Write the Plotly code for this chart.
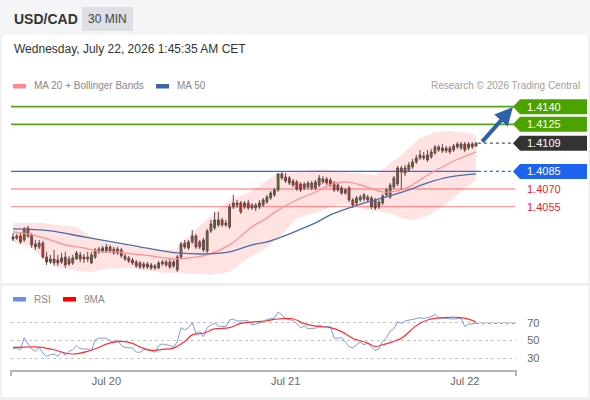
import plotly.graph_objects as go

# USD/CAD 30 min candles, oldest first (bar 124 = Jul 22 01:30)
opens = [1.40292, 1.40284, 1.40301, 1.40267, 1.40369, 1.40310, 1.40233, 1.40207, 1.40241, 1.40122,
         1.40080, 1.40105, 1.40097, 1.40080, 1.40122, 1.40105, 1.40071, 1.40105, 1.40140, 1.40122,
         1.40105, 1.40071, 1.40122, 1.40165, 1.40173, 1.40173, 1.40207, 1.40190, 1.40156, 1.40182,
         1.40131, 1.40114, 1.40097, 1.40080, 1.40071, 1.40037, 1.40063, 1.40054, 1.40029, 1.40029,
         1.40063, 1.40080, 1.40080, 1.40046, 1.40012, 1.40122, 1.40241, 1.40199, 1.40250, 1.40301,
         1.40207, 1.40267, 1.40173, 1.40343, 1.40369, 1.40394, 1.40437, 1.40411, 1.40377, 1.40547,
         1.40581, 1.40581, 1.40547, 1.40581, 1.40564, 1.40539, 1.40547, 1.40564, 1.40590, 1.40624,
         1.40650, 1.40692, 1.40828, 1.40802, 1.40794, 1.40768, 1.40760, 1.40743, 1.40709, 1.40717,
         1.40709, 1.40709, 1.40734, 1.40785, 1.40785, 1.40777, 1.40751, 1.40734, 1.40709, 1.40692,
         1.40709, 1.40607, 1.40581, 1.40607, 1.40615, 1.40632, 1.40624, 1.40607, 1.40547, 1.40581,
         1.40650, 1.40632, 1.40717, 1.40743, 1.40879, 1.40836, 1.40862, 1.40888, 1.40930, 1.40990,
         1.40981, 1.40990, 1.40973, 1.41007, 1.41058, 1.41024, 1.41049, 1.41049, 1.41032, 1.41083,
         1.41049, 1.41083, 1.41049, 1.41083, 1.41066]
highs = [1.40326, 1.40318, 1.40326, 1.40377, 1.40386, 1.40326, 1.40267, 1.40267, 1.40258, 1.40165,
         1.40140, 1.40182, 1.40140, 1.40156, 1.40165, 1.40131, 1.40140, 1.40173, 1.40165, 1.40148,
         1.40165, 1.40165, 1.40199, 1.40207, 1.40216, 1.40233, 1.40224, 1.40207, 1.40207, 1.40199,
         1.40148, 1.40131, 1.40114, 1.40097, 1.40088, 1.40080, 1.40080, 1.40071, 1.40063, 1.40088,
         1.40097, 1.40097, 1.40105, 1.40097, 1.40140, 1.40250, 1.40267, 1.40267, 1.40352, 1.40318,
         1.40267, 1.40284, 1.40360, 1.40437, 1.40505, 1.40505, 1.40454, 1.40437, 1.40573, 1.40650,
         1.40607, 1.40598, 1.40598, 1.40607, 1.40581, 1.40581, 1.40607, 1.40624, 1.40650, 1.40683,
         1.40709, 1.40836, 1.40845, 1.40836, 1.40811, 1.40785, 1.40777, 1.40760, 1.40760, 1.40768,
         1.40768, 1.40777, 1.40819, 1.40811, 1.40802, 1.40794, 1.40768, 1.40751, 1.40726, 1.40709,
         1.40726, 1.40624, 1.40641, 1.40650, 1.40666, 1.40650, 1.40641, 1.40624, 1.40607, 1.40658,
         1.40709, 1.40751, 1.40811, 1.40896, 1.40896, 1.40905, 1.40930, 1.40956, 1.40990, 1.41032,
         1.41015, 1.41032, 1.41041, 1.41075, 1.41075, 1.41083, 1.41066, 1.41066, 1.41083, 1.41100,
         1.41100, 1.41100, 1.41100, 1.41100, 1.41100]
lows = [1.40258, 1.40267, 1.40233, 1.40250, 1.40284, 1.40199, 1.40182, 1.40190, 1.40105, 1.40054,
        1.40063, 1.40046, 1.40046, 1.40063, 1.40029, 1.40046, 1.40054, 1.40097, 1.40080, 1.40071,
        1.40080, 1.40063, 1.40105, 1.40148, 1.40156, 1.40156, 1.40156, 1.40140, 1.40140, 1.40114,
        1.40088, 1.40071, 1.40054, 1.40029, 1.40020, 1.40020, 1.40020, 1.40012, 1.40012, 1.40020,
        1.40046, 1.40037, 1.40020, 1.40029, 1.39995, 1.40105, 1.40190, 1.40182, 1.40233, 1.40190,
        1.40190, 1.40165, 1.40156, 1.40326, 1.40352, 1.40377, 1.40377, 1.40377, 1.40360, 1.40530,
        1.40539, 1.40488, 1.40530, 1.40522, 1.40522, 1.40513, 1.40530, 1.40547, 1.40573, 1.40607,
        1.40632, 1.40675, 1.40777, 1.40751, 1.40734, 1.40717, 1.40683, 1.40675, 1.40692, 1.40700,
        1.40692, 1.40692, 1.40717, 1.40743, 1.40734, 1.40717, 1.40675, 1.40675, 1.40650, 1.40650,
        1.40590, 1.40539, 1.40564, 1.40590, 1.40598, 1.40590, 1.40530, 1.40522, 1.40530, 1.40564,
        1.40632, 1.40615, 1.40700, 1.40726, 1.40692, 1.40811, 1.40845, 1.40871, 1.40913, 1.40947,
        1.40947, 1.40930, 1.40956, 1.40990, 1.41015, 1.41007, 1.41007, 1.40998, 1.41015, 1.41041,
        1.41032, 1.41015, 1.41032, 1.41041, 1.41058]
closes = [1.40275, 1.40301, 1.40250, 1.40360, 1.40301, 1.40224, 1.40207, 1.40241, 1.40122, 1.40080,
          1.40105, 1.40071, 1.40071, 1.40114, 1.40054, 1.40063, 1.40114, 1.40156, 1.40105, 1.40105,
          1.40122, 1.40140, 1.40182, 1.40190, 1.40199, 1.40207, 1.40173, 1.40156, 1.40190, 1.40131,
          1.40105, 1.40088, 1.40071, 1.40046, 1.40037, 1.40063, 1.40037, 1.40029, 1.40046, 1.40071,
          1.40080, 1.40054, 1.40037, 1.40080, 1.40122, 1.40233, 1.40207, 1.40250, 1.40301, 1.40207,
          1.40250, 1.40182, 1.40343, 1.40403, 1.40437, 1.40437, 1.40394, 1.40394, 1.40547, 1.40581,
          1.40564, 1.40505, 1.40581, 1.40539, 1.40539, 1.40564, 1.40581, 1.40607, 1.40632, 1.40666,
          1.40692, 1.40828, 1.40794, 1.40768, 1.40751, 1.40734, 1.40700, 1.40692, 1.40743, 1.40751,
          1.40751, 1.40760, 1.40794, 1.40760, 1.40751, 1.40734, 1.40692, 1.40692, 1.40666, 1.40666,
          1.40607, 1.40564, 1.40624, 1.40632, 1.40650, 1.40607, 1.40547, 1.40539, 1.40590, 1.40641,
          1.40692, 1.40734, 1.40794, 1.40879, 1.40845, 1.40879, 1.40905, 1.40930, 1.40964, 1.40964,
          1.40964, 1.40947, 1.41015, 1.41058, 1.41032, 1.41049, 1.41024, 1.41015, 1.41066, 1.41058,
          1.41083, 1.41032, 1.41083, 1.41058, 1.41090]

# indicators (bar index, value)
ma20_idx = [0, 5, 10, 14, 19, 24, 28, 32, 37, 43, 47, 52, 58, 64, 68, 71, 76, 81, 85, 89,
            93, 97, 99, 103, 106, 111, 115, 118, 122, 124]
ma20 = [1.40335, 1.40310, 1.40267, 1.40225, 1.40199, 1.40165, 1.40165, 1.40148, 1.40131, 1.40106,
        1.40114, 1.40140, 1.40225, 1.40378, 1.40454, 1.40522, 1.40607, 1.40675, 1.40735, 1.40760,
        1.40735, 1.40692, 1.40675, 1.40684, 1.40718, 1.40820, 1.40888, 1.40939, 1.40990, 1.41015]
ma50_idx = [0, 10, 19, 28, 37, 44, 52, 58, 64, 68, 72, 76, 81, 85, 90, 95, 100, 106, 111, 117, 124]
ma50 = [1.40361, 1.40344, 1.40293, 1.40242, 1.40191, 1.40157, 1.40148, 1.40165, 1.40225, 1.40250,
        1.40293, 1.40344, 1.40412, 1.40480, 1.40539, 1.40590, 1.40633, 1.40692, 1.40752, 1.40803, 1.40828]
bb_up_idx = [0, 4, 8, 12, 17, 21, 25, 29, 32, 40, 44, 45, 47, 49, 53, 58, 63, 71, 76, 83,
             89, 97, 104, 109, 113, 117, 122, 124]
bb_up = [1.40412, 1.40412, 1.40412, 1.40395, 1.40378, 1.40293, 1.40250, 1.40225, 1.40208, 1.40182,
         1.40182, 1.40241, 1.40301, 1.40360, 1.40471, 1.40607, 1.40666, 1.40837, 1.40845, 1.40871,
         1.40845, 1.40820, 1.40990, 1.41134, 1.41185, 1.41194, 1.41177, 1.41160]
bb_lo_idx = [0, 4, 8, 12, 17, 21, 25, 32, 40, 44, 53, 58, 63, 67, 72, 76, 81, 85, 89, 95,
             101, 104, 107, 111, 116, 120, 124]
bb_lo = [1.40250, 1.40216, 1.40123, 1.40029, 1.40004, 1.39995, 1.40021, 1.40029, 1.39987, 1.39987,
         1.39970, 1.39995, 1.40114, 1.40182, 1.40310, 1.40454, 1.40497, 1.40548, 1.40573, 1.40522,
         1.40497, 1.40454, 1.40437, 1.40471, 1.40573, 1.40675, 1.40777]

# key levels on the right
resistances = [1.4140, 1.4125]
last_price = 1.4109
pivot = 1.4085
supports = [1.4070, 1.4055]

# RSI panel
rsi_idx = [0, 1, 2, 3, 4, 5, 6, 7, 8, 9, 10, 11, 12, 13, 14, 15, 16, 17, 18, 20,
           21, 22, 23, 25, 26, 27, 28, 29, 30, 32, 33, 34, 35, 36, 37, 38, 39, 40, 42, 43,
           44, 45, 46, 47, 48, 49, 50, 51, 52, 53, 54, 55, 57, 58, 59, 60, 62, 63, 64, 65,
           66, 67, 68, 70, 71, 72, 73, 75, 76, 77, 78, 79, 80, 81, 82, 83, 85, 86, 87, 88,
           90, 91, 92, 93, 94, 95, 97, 98, 99, 100, 101, 102, 103, 104, 105, 106, 108, 109, 110, 112,
           113, 114, 116, 117, 118, 120, 121, 122, 123, 124]
rsi = [40.7, 41.5, 39.6, 53.3, 46.0, 40.4, 37.8, 42.2, 35.9, 32.2, 34.0, 34.8, 32.2, 37.8, 33.3, 37.8, 39.6, 44.4, 40.7, 40.4,
       38.5, 50.7, 52.6, 52.6, 49.6, 48.1, 50.7, 44.4, 42.2, 41.5, 37.0, 36.7, 39.6, 39.6, 38.5, 36.7, 44.4, 46.0, 44.4, 42.2,
       48.9, 64.4, 61.9, 64.4, 70.0, 58.1, 60.0, 54.4, 64.4, 67.4, 69.3, 66.3, 65.6, 73.0, 74.0, 71.9, 72.2, 72.2, 67.4, 68.5,
       70.0, 70.7, 73.7, 75.2, 81.9, 78.9, 74.4, 72.6, 68.9, 64.1, 66.3, 63.0, 63.7, 63.7, 67.4, 65.6, 65.6, 52.6, 52.6, 53.3,
       43.3, 41.5, 45.2, 48.1, 45.2, 47.0, 38.5, 40.7, 48.9, 52.6, 60.7, 63.0, 71.1, 69.3, 71.9, 73.0, 74.8, 75.6, 74.8, 76.7,
       79.3, 75.6, 74.8, 74.1, 74.1, 74.8, 65.6, 68.1, 68.5, 69.3]
rsi_ma_idx = [0, 3, 7, 11, 14, 16, 20, 23, 25, 29, 32, 34, 37, 40, 43, 46, 48, 51, 54, 58,
              61, 65, 68, 70, 75, 78, 82, 85, 88, 91, 95, 97, 99, 104, 108, 111, 115, 120, 124]
rsi_ma = [42.2, 42.6, 42.6, 39.6, 35.9, 34.8, 37.8, 42.2, 45.9, 48.9, 46.7, 42.6, 38.9, 40.0, 41.5, 48.9, 56.3, 58.1, 63.0, 64.4,
          69.3, 71.1, 72.2, 73.7, 74.4, 68.9, 65.6, 64.4, 60.0, 52.6, 47.0, 43.3, 45.2, 52.6, 66.7, 73.0, 75.6, 75.6, 71.1]
rsi_levels = [30, 50, 70]

day_ticks = [25, 73, 121]
day_labels = ["Jul 20", "Jul 21", "Jul 22"]

FONT = "Liberation Sans, Arial, sans-serif"
W, H = 590, 400
L_PX, R_PX = 11, 516


def px(x):
    # pixel x -> paper x
    return (x - L_PX) / (R_PX - L_PX)


def py(y):
    # pixel y -> paper y
    return 1 - y / H


bars = list(range(len(closes)))
x_range = [-0.54, 134.71]
y_range = [1.399264, 1.414995]
px_per_price = 185 / (y_range[1] - y_range[0])
half_box = 7.5 / px_per_price

fig = go.Figure()

# Bollinger band area
fig.add_trace(go.Scatter(x=bb_up_idx + bb_lo_idx[::-1], y=bb_up + bb_lo[::-1],
                         fill="toself", fillcolor="rgba(255,70,70,0.15)",
                         line=dict(width=0), mode="lines", hoverinfo="skip"))
fig.add_trace(go.Scatter(x=ma20_idx, y=ma20, mode="lines", line=dict(color="#ff8f8f", width=1.2, shape="spline"),
                         hoverinfo="skip"))
fig.add_trace(go.Scatter(x=ma50_idx, y=ma50, mode="lines", line=dict(color="#4a6ea9", width=1.3, shape="spline"),
                         hoverinfo="skip"))

fig.add_trace(go.Candlestick(
    x=bars, open=opens, high=highs, low=lows, close=closes, whiskerwidth=0,
    increasing=dict(line=dict(color="#4a4a4a", width=1), fillcolor="#2f8a2f"),
    decreasing=dict(line=dict(color="#4a4a4a", width=1), fillcolor="#e01b1b"),
))

# dotted continuations to the price labels
fig.add_trace(go.Scatter(x=[bars[-1] + 0.5, 134.5], y=[last_price, last_price], mode="lines",
                         line=dict(color="#555555", width=1.2, dash="dot"), hoverinfo="skip"))
fig.add_trace(go.Scatter(x=[bars[-1] + 0.5, 134.5], y=[pivot, pivot], mode="lines",
                         line=dict(color="#2a6af5", width=1.2, dash="dot"), hoverinfo="skip"))

# RSI panel
fig.add_trace(go.Scatter(x=rsi_idx, y=rsi, xaxis="x2", yaxis="y2", mode="lines",
                         line=dict(color="#7f9be6", width=1), hoverinfo="skip"))
fig.add_trace(go.Scatter(x=[rsi_idx[-1], 134.5], y=[rsi[-1], rsi[-1]], xaxis="x2", yaxis="y2", mode="lines",
                         line=dict(color="#7f9be6", width=1.2, dash="dot"), hoverinfo="skip"))
fig.add_trace(go.Scatter(x=rsi_ma_idx, y=rsi_ma, xaxis="x2", yaxis="y2", mode="lines",
                         line=dict(color="#ff3030", width=1.2, shape="spline"), hoverinfo="skip"))

shapes = []
annotations = []

# frame pieces
shapes.append(dict(type="rect", xref="paper", yref="paper", x0=px(0), x1=px(W), y0=py(35), y1=py(0),
                   fillcolor="#f4f5f7", line=dict(width=0), layer="below"))
shapes.append(dict(type="rect", xref="paper", yref="paper", x0=px(82), x1=px(133), y0=py(31), y1=py(7),
                   fillcolor="#dcdfe3", line=dict(width=0), layer="below"))
for y0, y1 in [(283, 286), (397, 400)]:
    shapes.append(dict(type="rect", xref="paper", yref="paper", x0=px(0), x1=px(W), y0=py(y1), y1=py(y0),
                       fillcolor="#eceef1", line=dict(width=0), layer="below"))
for x0, x1 in [(0, 1.5), (588.5, 590)]:
    shapes.append(dict(type="rect", xref="paper", yref="paper", x0=px(x0), x1=px(x1), y0=py(400), y1=py(35),
                       fillcolor="#eceef1", line=dict(width=0), layer="below"))

# level lines
for lv in resistances:
    shapes.append(dict(type="line", xref="x", yref="y", x0=-0.8, x1=134.5, y0=lv, y1=lv,
                       line=dict(color="#55a51c", width=1.8), layer="below"))
for lv in supports:
    shapes.append(dict(type="line", xref="x", yref="y", x0=-0.8, x1=134.5, y0=lv, y1=lv,
                       line=dict(color="#ff9c9c", width=1.4), layer="below"))
shapes.append(dict(type="line", xref="x", yref="y", x0=-0.8, x1=bars[-1] + 0.5, y0=pivot, y1=pivot,
                   line=dict(color="#2a6af5", width=1.2), layer="below"))

# price tags on the right
tip, bx, rx = px(513), px(520), px(587)
tags = [(resistances[0], "#4ca300"), (resistances[1], "#4ca300"), (last_price, "#333333"), (pivot, "#1e62f0")]
for lv, col in tags:
    shapes.append(dict(type="path", xref="paper", yref="y", fillcolor=col, line=dict(width=0),
                       path=f"M {tip},{lv} L {bx},{lv + half_box} L {rx},{lv + half_box} "
                            f"L {rx},{lv - half_box} L {bx},{lv - half_box} Z"))
    annotations.append(dict(xref="paper", yref="y", x=px(525), y=lv, text=f"{lv:.4f}", showarrow=False,
                            xanchor="left", yanchor="middle", font=dict(family=FONT, size=11, color="white")))
for lv in supports:
    annotations.append(dict(xref="paper", yref="y", x=px(525), y=lv, text=f"{lv:.4f}", showarrow=False,
                            xanchor="left", yanchor="middle", font=dict(family=FONT, size=11, color="#ee1c25")))

# forecast arrow
annotations.append(dict(xref="x", yref="y", axref="x", ayref="y", x=133.9, y=resistances[0] - 0.00003,
                        ax=125.3, ay=last_price, showarrow=True, arrowhead=2, arrowsize=0.9,
                        arrowwidth=4, arrowcolor="#2d62a8", standoff=0, text=""))

# RSI x-axis end ticks
for xe in (0, 1):
    shapes.append(dict(type="line", xref="paper", yref="paper", x0=xe, x1=xe, y0=py(376), y1=py(370),
                       line=dict(color="#b5b5b5", width=2)))

# header texts
annotations += [
    dict(xref="paper", yref="paper", x=px(12), y=py(19), text="<b>USD/CAD</b>", showarrow=False,
         xanchor="left", yanchor="middle", font=dict(family=FONT, size=14, color="#333333")),
    dict(xref="paper", yref="paper", x=px(107.5), y=py(19), text="30 MIN", showarrow=False,
         xanchor="center", yanchor="middle", font=dict(family=FONT, size=12, color="#444444")),
    dict(xref="paper", yref="paper", x=px(12), y=py(49), text="Wednesday, July 22, 2026 1:45:35 AM CET",
         showarrow=False, xanchor="left", yanchor="middle", font=dict(family=FONT, size=12, color="#333333")),
    dict(xref="paper", yref="paper", x=px(582), y=py(86), text="Research © 2026 Trading Central",
         showarrow=False, xanchor="right", yanchor="middle", font=dict(family=FONT, size=10, color="#a0a0a0")),
]

# legends (swatch + label)
legend_items = [(13, 86, "#ff8a8a", "MA 20 + Bollinger Bands"), (156, 86, "#3c64a3", "MA 50"),
                (13, 299, "#6d8fe0", "RSI"), (63, 299, "#ff0000", "9MA")]
for lx, ly, col, label in legend_items:
    shapes.append(dict(type="rect", xref="paper", yref="paper", x0=px(lx), x1=px(lx + 13),
                       y0=py(ly + 2.5), y1=py(ly - 2), fillcolor=col, line=dict(width=0)))
    annotations.append(dict(xref="paper", yref="paper", x=px(lx + 19), y=py(ly), text=label, showarrow=False,
                            xanchor="left", yanchor="middle", font=dict(family=FONT, size=10, color="#888888")))

fig.update_layout(
    width=W, height=H,
    margin=dict(l=L_PX, r=W - R_PX, t=0, b=0),
    paper_bgcolor="white", plot_bgcolor="white",
    showlegend=False, hovermode=False,
    font=dict(family=FONT),
    xaxis=dict(domain=[0, 1], range=x_range, visible=False, rangeslider=dict(visible=False), anchor="y"),
    yaxis=dict(domain=[py(280), py(95)], range=y_range, visible=False, anchor="x"),
    xaxis2=dict(domain=[0, 1], range=x_range, anchor="y2", showline=True, linecolor="#b5b5b5", linewidth=2,
                tickvals=day_ticks, ticktext=day_labels, ticks="", showgrid=False, zeroline=False,
                tickfont=dict(family=FONT, size=11, color="#666666")),
    yaxis2=dict(domain=[py(370), py(300)], range=[16.85, 95.5], anchor="x2", side="right",
                tickvals=rsi_levels, showgrid=True, griddash="dot", gridcolor="#c4c4c4", gridwidth=1,
                zeroline=False, ticks="outside", ticklen=8, tickcolor="rgba(0,0,0,0)",
                tickfont=dict(family=FONT, size=11, color="#666666")),
    shapes=shapes,
    annotations=annotations,
)

# the page's default body margin would push the chart off by 8px
fig.write_html("out.html", config={"displayModeBar": False},
               post_script="document.body.style.margin='0';")
